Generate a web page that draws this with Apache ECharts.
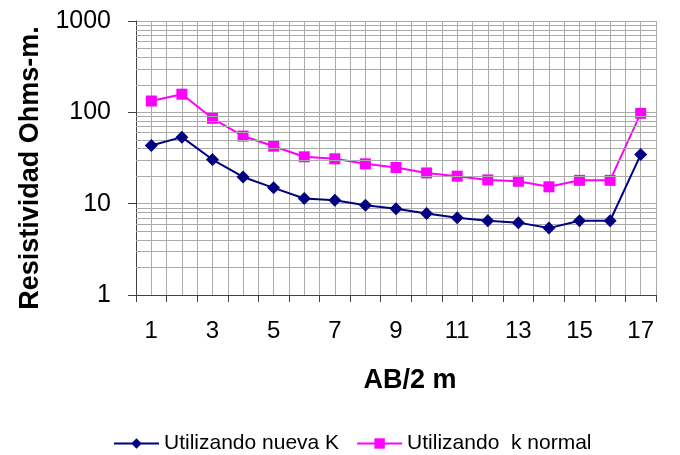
<!DOCTYPE html>
<html>
<head>
<meta charset="utf-8">
<script src="https://cdn.jsdelivr.net/npm/echarts@6/dist/echarts.min.js"></script>
<style>html,body{margin:0;padding:0;background:#fff}#c{width:680px;height:455px}</style>
</head>
<body>
<div id="c"></div>
<script>
const categories = ['1','2','3','4','5','6','7','8','9','10','11','12','13','14','15','16','17'];
const nuevaK = [43.4, 53.5, 30.4, 19.6, 14.9, 11.4, 10.9, 9.6, 8.8, 7.8, 7.0, 6.5, 6.2, 5.4, 6.5, 6.5, 34.5];
const kNormal = [133, 158, 86, 55, 42.6, 32.6, 31, 27.3, 24.9, 21.7, 20, 18.2, 17.6, 15.3, 18, 18, 97.5];
const minorGridValues = [2,3,4,5,6,7,8,9,20,30,40,50,60,70,80,90,200,300,400,500,600,700,800,900];

const font = 'Liberation Sans, Arial, sans-serif';
const gridColor = '#aaaaaa';
const chart = echarts.init(document.getElementById('c'), null, {renderer: 'canvas'});
chart.setOption({
  animation: false,
  backgroundColor: '#fff',
  grid: {left: 136, top: 21, right: 24, bottom: 160, containLabel: false},
  legend: {
    top: 428, left: 108, itemWidth: 45, itemHeight: 13, itemGap: 17,
    textStyle: {fontFamily: font, fontSize: 21, color: '#000'},
    data: ['Utilizando nueva K', 'Utilizando  k normal']
  },
  xAxis: [{
    type: 'category', data: categories, boundaryGap: true,
    name: 'AB/2 m', nameLocation: 'middle', nameGap: 72,
    nameTextStyle: {fontFamily: font, fontSize: 27, fontWeight: 'bold', color: '#000', padding: [0, 0, 0, 28]},
    axisLine: {lineStyle: {color: '#404040', width: 1}},
    axisTick: {show: true, interval: 0, length: 7, lineStyle: {color: '#404040'}},
    axisLabel: {interval: 1, fontFamily: font, fontSize: 24, color: '#000', margin: 24},
    splitLine: {show: false}
  }, {
    type: 'value', min: 0.5, max: 17.5, interval: 0.5, position: 'bottom',
    axisLine: {show: false}, axisTick: {show: false}, axisLabel: {show: false},
    splitLine: {show: true, lineStyle: {color: gridColor, width: 1}}
  }],
  yAxis: {
    type: 'log', logBase: 10, min: 1, max: 1000,
    name: 'Resistividad Ohms-m.', nameLocation: 'middle', nameGap: 92, nameRotate: 90,
    nameTextStyle: {fontFamily: font, fontSize: 27, fontWeight: 'bold', color: '#000', padding: [0, 20, 0, 0]},
    axisLine: {show: true, lineStyle: {color: '#404040', width: 1}},
    axisTick: {show: true, length: 8, lineStyle: {color: '#404040'}},
    axisLabel: {fontFamily: font, fontSize: 25, color: '#000', margin: 25,
      formatter: v => String(Math.round(v))},
    splitLine: {show: true, lineStyle: {color: gridColor, width: 1}},
    minorTick: {show: false}, minorSplitLine: {show: false}
  },
  series: [{
    type: 'line', name: 'grid', data: [], silent: true, z: 1,
    markLine: {
      silent: true, symbol: 'none', animation: false,
      label: {show: false},
      lineStyle: {color: gridColor, type: 'solid', width: 1},
      emphasis: {disabled: true},
      data: minorGridValues.map(v => ({yAxis: v}))
    }
  }, {
    type: 'line', name: 'Utilizando nueva K', data: nuevaK, z: 5,
    symbol: 'diamond', symbolSize: [13, 13],
    lineStyle: {color: '#000080', width: 2},
    itemStyle: {color: '#000080'}
  }, {
    type: 'line', name: 'Utilizando  k normal', data: kNormal, z: 4,
    symbol: 'rect', symbolSize: [11, 11],
    lineStyle: {color: '#ff00ff', width: 2},
    itemStyle: {color: '#ff00ff'}
  }]
});
</script>
</body>
</html>
